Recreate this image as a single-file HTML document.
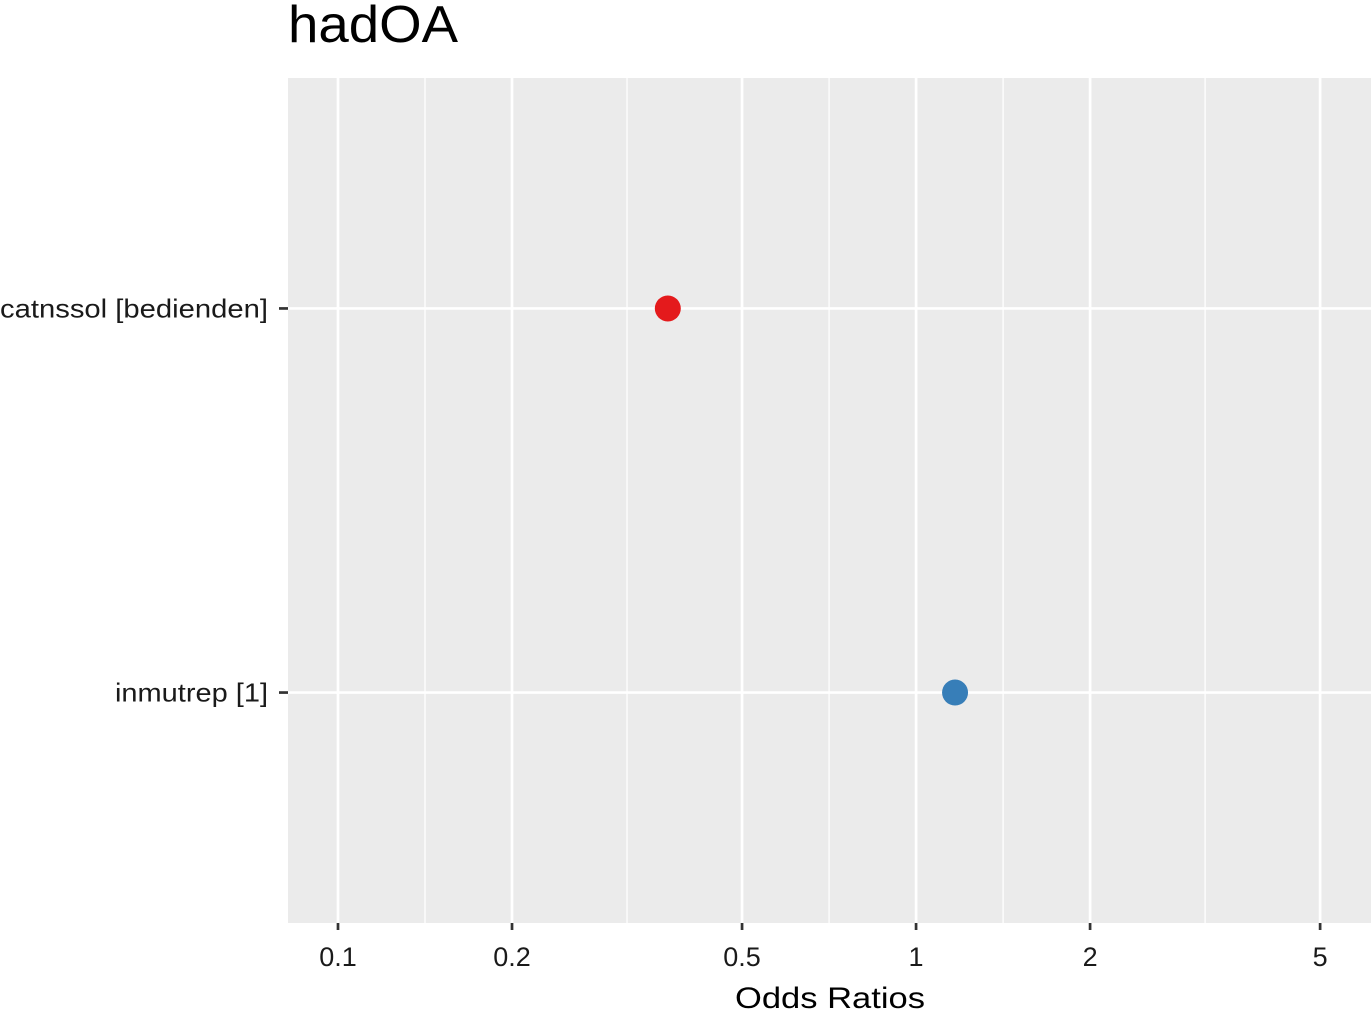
<!DOCTYPE html>
<html><head><meta charset="utf-8"><style>
html,body{margin:0;padding:0;background:#fff;}
svg{display:block;font-family:"Liberation Sans",Arial,sans-serif;}
</style></head><body>
<svg id="chart" width="1371" height="1009">
<text x="288" y="42" font-size="52" textLength="170" lengthAdjust="spacingAndGlyphs" fill="#000">hadOA</text>
<rect x="288" y="78" width="1083" height="845" fill="#EBEBEB"/>
<g id="grid"></g>
<g id="marks"></g>
<g id="axes"></g>
<text x="830" y="1008" font-size="30" text-anchor="middle" textLength="190" lengthAdjust="spacingAndGlyphs" fill="#000">Odds Ratios</text>
</svg>
<script>
const categories = ["catnssol [bedienden]", "inmutrep [1]"];
const oddsRatios = [0.372, 1.168];
const pointColors = ["#E41A1C", "#377EB8"];
const xTicks = [0.1, 0.2, 0.5, 1, 2, 5];
const xTickLabels = ["0.1", "0.2", "0.5", "1", "2", "5"];

const NS = "http://www.w3.org/2000/svg";
const px0 = 288, px1 = 1371, py0 = 78, py1 = 923;
const logMin = -1.0865, logMax = 0.787;
function xScale(v){ return px0 + (Math.log10(v) - logMin) / (logMax - logMin) * (px1 - px0); }
function yScale(i){ const n = categories.length; const unit = (py1 - py0) / (n - 1 + 1.2); return py0 + 0.6*unit + i*unit; }
function mk(tag, attrs, parent){ const e = document.createElementNS(NS, tag); for (const k in attrs) e.setAttribute(k, attrs[k]); parent.appendChild(e); return e; }

const grid = document.getElementById("grid");
const marks = document.getElementById("marks");
const axes = document.getElementById("axes");

for (let i = 0; i < xTicks.length - 1; i++) {
  const m = Math.sqrt(xTicks[i] * xTicks[i+1]);
  const x = xScale(m);
  const l = mk("line", {x1:x, x2:x, y1:py0, y2:py1, stroke:"#fff", "stroke-width":1.3}, grid);
  
  
}
xTicks.forEach((t, i) => {
  const x = xScale(t);
  const l = mk("line", {x1:x, x2:x, y1:py0, y2:py1, stroke:"#fff", "stroke-width":2.7}, grid);
  
  
  const tk = mk("line", {x1:x, x2:x, y1:py1, y2:py1+7, stroke:"#333", "stroke-width":2.7}, axes);
  
  
  const tx = mk("text", {x:x, y:966, "font-size":27, "text-anchor":"middle", fill:"#1a1a1a"}, axes);
  tx.textContent = xTickLabels[i];
  
  
});
const labelWidths = [268, 153];
categories.forEach((c, i) => {
  const y = yScale(i);
  const l = mk("line", {x1:px0, x2:px1, y1:y, y2:y, stroke:"#fff", "stroke-width":2.7}, grid);
  
  
  const tk = mk("line", {x1:px0-9, x2:px0, y1:y, y2:y, stroke:"#333", "stroke-width":2.7}, axes);
  
  
  const tx = mk("text", {x:268, y:y+9, "font-size":26, "text-anchor":"end", fill:"#1a1a1a", textLength:labelWidths[i], lengthAdjust:"spacingAndGlyphs"}, axes);
  tx.textContent = c;
  
  
  const p = mk("circle", {cx:xScale(oddsRatios[i]), cy:y, r:13, fill:pointColors[i]}, marks);
  
  
});
</script>
</body></html>
